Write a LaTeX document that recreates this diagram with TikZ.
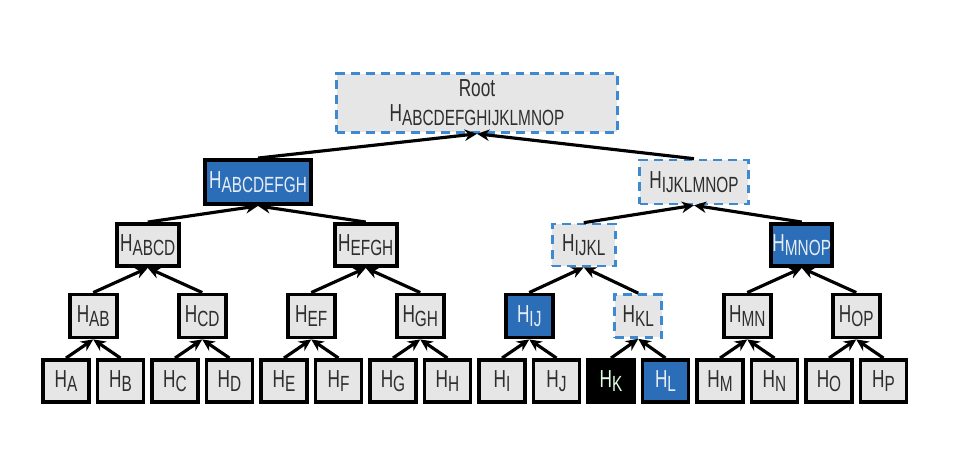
\documentclass[tikz,border=0pt]{standalone}
\usepackage{fontspec}
\setmainfont{Liberation Sans}[FakeStretch=0.7]
\usepackage{tikz}
\usetikzlibrary{arrows.meta}
\definecolor{boxgray}{HTML}{E6E6E6}
\definecolor{hashblue}{HTML}{2C6DB7}
\definecolor{dashblue}{HTML}{3D8AD2}
\definecolor{textgray}{HTML}{2E2E2E}
\newcommand{\hs}[1]{H\raisebox{-0.32ex}{\fontsize{12.5}{13}\selectfont #1}}

\begin{document}
\begin{tikzpicture}[
  x=0.02cm, y=-0.02cm,
  every node/.style={font=\fontsize{14}{16}\selectfont},
  hashbox/.style={draw, line width=2.2pt, fill=boxgray, text=textgray,
    inner sep=0pt, minimum height=0.84cm},
  leafbox/.style={hashbox, minimum width=0.92cm},
  pairbox/.style={hashbox, minimum width=0.94cm, minimum height=0.86cm},
  bluebox/.style={fill=hashblue, text=white!88!hashblue},
  darkbox/.style={fill=black, text=white!90!green},
  pathbox/.style={draw=dashblue, line width=1.5pt, dash pattern=on 5pt off 3.5pt},
  uparrow/.style={line width=1.8pt, -{Stealth[length=7pt,width=6.5pt]}},
]
\useasboundingbox (0,0) rectangle (954,476);

% Leaves
\foreach \n/\s [count=\i from 0] in {A/{},B/{},C/{},D/{},E/{},F/{},G/{},H/{},
    I/{},J/{},K/darkbox,L/bluebox,M/{},N/{},O/{},P/{}} {
  \node[leafbox, \s] (h\n) at ({66+54.5*\i},381) {\hs{\n}};
}

% Pair hashes
\foreach \n/\s [count=\i from 0] in {AB/{},CD/{},EF/{},GH/{},IJ/bluebox,KL/pathbox,MN/{},OP/{}} {
  \node[pairbox, \s] (h\n) at ({93.25+109*\i},316) {\hs{\n}};
}

% Level 2
\node[hashbox, minimum width=1.24cm] (hABCD) at (147.75,245) {\hs{ABCD}};
\node[hashbox, minimum width=1.24cm] (hEFGH) at (365.75,245) {\hs{EFGH}};
\node[hashbox, pathbox, minimum width=1.26cm] (hIJKL) at (583.75,245) {\hs{IJKL}};
\node[hashbox, bluebox, minimum width=1.22cm] (hMNOP) at (801.75,245) {\hs{MNOP}};

% Level 3
\node[hashbox, bluebox, minimum width=2.12cm, minimum height=0.88cm] (hABCDEFGH) at (258,182) {\hs{ABCDEFGH}};
\node[hashbox, pathbox, minimum width=2.18cm, minimum height=0.88cm] (hIJKLMNOP) at (694,182) {\hs{IJKLMNOP}};

% Root
\node[hashbox, pathbox, minimum width=5.62cm, minimum height=1.18cm, align=center] (root) at (477,103)
  {Root\\[-2pt]\hs{ABCDEFGHIJKLMNOP}};

% Arrows child -> parent
\foreach \c/\p in {A/AB,B/AB,C/CD,D/CD,E/EF,F/EF,G/GH,H/GH,I/IJ,J/IJ,K/KL,L/KL,M/MN,N/MN,O/OP,P/OP,
    AB/ABCD,CD/ABCD,EF/EFGH,GH/EFGH,IJ/IJKL,KL/IJKL,MN/MNOP,OP/MNOP,
    ABCD/ABCDEFGH,EFGH/ABCDEFGH,IJKL/IJKLMNOP,MNOP/IJKLMNOP} {
  \draw[uparrow] (h\c.north) -- (h\p.south);
}
\draw[uparrow] (hABCDEFGH.north) -- (root.south);
\draw[uparrow] (hIJKLMNOP.north) -- (root.south);

\end{tikzpicture}
\end{document}
